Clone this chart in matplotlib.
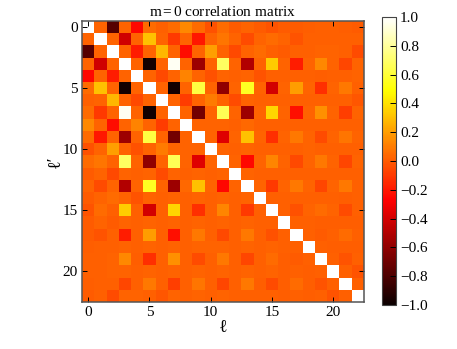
import numpy as np
import matplotlib
matplotlib.use('Agg')
import matplotlib.pyplot as plt

plt.rcParams['font.family'] = ['Liberation Serif', 'DejaVu Serif']
plt.rcParams['mathtext.fontset'] = 'stix'

# upper triangle of the correlation matrix, one list per row (from the diagonal on)
row_00 = [1, .03, -.77, .03, -.25, .05, .02, .05, .14, .05, -.03, .05, .0, .03, .0, -.02, .0, .0, .01, .02, .02, .01, .0]
row_01 = [1, .03, -.41, .03, .31, .03, -.10, .03, -.20, .03, .08, .03, -.04, .03, .05, .03, -.02, .02, .02, .02, .02, .02]
row_02 = [1, .03, -.18, .03, .28, .03, -.23, .03, .21, .03, -.05, .03, .05, .02, .0, .02, .02, .03, .03, .02, -.04]
row_03 = [1, .03, -.97, .03, .97, .03, -.56, .03, .68, .03, -.50, .03, .34, .03, -.18, .03, .14, .03, -.06, .03]
row_04 = [1, .03, -.05, .03, .12, .03, -.03, .03, .02, .03, -.02, .02, .02, .02, .02, .01, .02, .02, .03]
row_05 = [1, .03, -.97, .03, .62, .03, -.60, .03, .56, .03, -.40, .03, .20, .03, -.13, .03, .09, .02]
row_06 = [1, .03, -.09, .03, .10, .03, -.04, .03, .02, .02, .02, .02, .02, .02, .02, .02, -.01]
row_07 = [1, .03, -.68, .03, .66, .03, -.56, .03, .37, .03, -.22, .03, .16, .03, -.08, .03]
row_08 = [1, .03, .03, .03, .02, .04, .02, .02, .02, .02, .02, .02, .02, .02, .02]
row_09 = [1, .03, -.36, .03, .31, .03, -.13, .03, .09, .03, -.04, .03, .08, .03]
row_10 = [1, .03, .02, .03, .02, .02, .02, .02, .03, .02, .02, .02, .02]
row_11 = [1, .03, -.25, .03, .13, .03, -.05, .03, .09, .03, -.06, .03]
row_12 = [1, .03, .02, .02, .02, .02, .02, .02, .02, .02, .02]
row_13 = [1, .03, -.10, .03, .09, .03, -.06, .03, .09, .02]
row_14 = [1, .02, .02, .02, .02, .02, .02, .01, .02]
row_15 = [1, .02, -.03, .03, .05, .03, -.04, .02]
row_16 = [1, .02, .02, .01, .01, .01, .01]
row_17 = [1, .02, .0, .02, .05, .02]
row_18 = [1, .02, .01, .01, .01]
row_19 = [1, .02, -.02, .02]
row_20 = [1, .02, -.02]
row_21 = [1, .02]
row_22 = [1]

upper_rows = [row_00, row_01, row_02, row_03, row_04, row_05, row_06, row_07,
              row_08, row_09, row_10, row_11, row_12, row_13, row_14, row_15,
              row_16, row_17, row_18, row_19, row_20, row_21, row_22]
cbar_ticks = [-1.0, -0.8, -0.6, -0.4, -0.2, 0.0, 0.2, 0.4, 0.6, 0.8, 1.0]
axis_ticks = [0, 5, 10, 15, 20]

n = len(upper_rows)
corr = np.zeros((n, n))
for i, row in enumerate(upper_rows):
    corr[i, i:] = row
    corr[i:, i] = row

W, H = 457, 349
fig = plt.figure(figsize=(W / 100, H / 100), dpi=100)
ax = fig.add_axes([82 / W, 1 - 302 / H, 282 / W, 281 / H])
im = ax.imshow(corr, cmap='hot', vmin=-1, vmax=1, interpolation='nearest', aspect='auto')

ax.set_xticks(axis_ticks)
ax.set_yticks(axis_ticks)
ax.tick_params(direction='in', length=3.5, width=0.7, top=True, right=True, labelsize=11, pad=3)
for s in ax.spines.values():
    s.set_color('#555555')
    s.set_linewidth(1.1)
ax.set_xlabel('\u2113', fontsize=13, labelpad=0)
ax.set_ylabel('\u2113\u2032', fontsize=13, labelpad=-1)
ax.set_title(r'm$\,$=$\,$0 correlation matrix', fontsize=11, pad=3.5)

cax = fig.add_axes([382 / W, 1 - 305 / H, 14 / W, 288 / H])
cbar = fig.colorbar(im, cax=cax, ticks=cbar_ticks)
cax.tick_params(direction='in', length=4.5, width=0.7, labelsize=11, pad=3, color='black')
cbar.ax.set_yticklabels([f'{t:.1f}'.replace('-', '\u2212') for t in cbar_ticks])
cbar.outline.set_edgecolor('#444444')
cbar.outline.set_linewidth(0.8)

fig.savefig('out.png', dpi=100)
